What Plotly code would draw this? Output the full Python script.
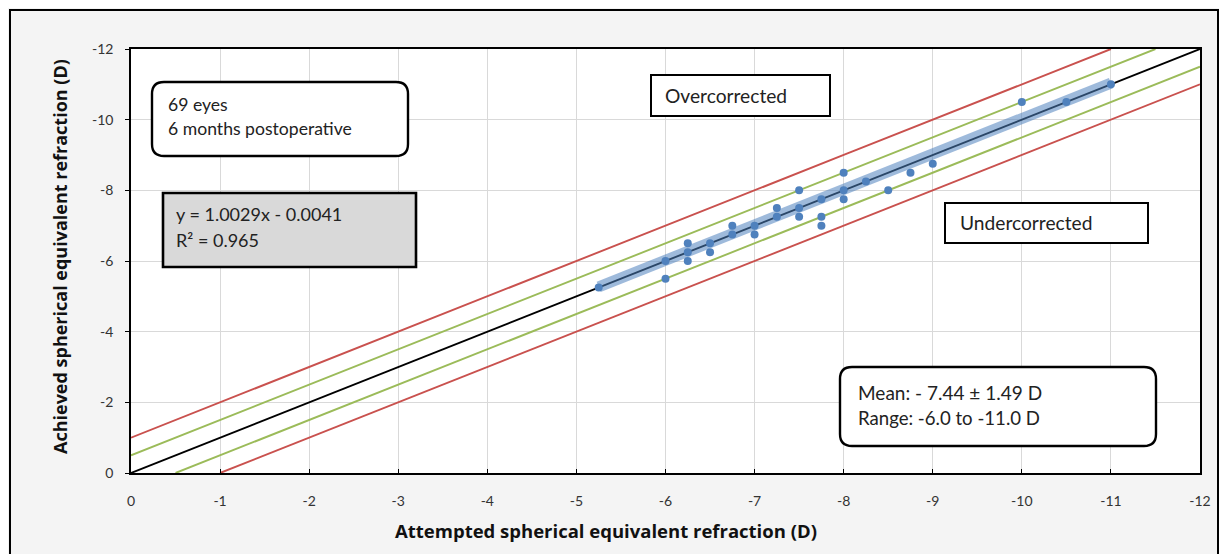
import numpy as np
import plotly.graph_objects as go

# ---- data ----
attempted = [-5.25, -6, -6, -6.25, -6.25, -6.25, -6.5, -6.5, -6.75, -6.75, -7, -7,
             -7.25, -7.25, -7.5, -7.5, -7.5, -7.75, -7.75, -7.75, -8, -8, -8,
             -8.25, -8.5, -8.75, -9, -10, -10.5, -11]
achieved = [-5.25, -6, -5.5, -6.5, -6.25, -6, -6.5, -6.25, -7, -6.75, -7, -6.75,
            -7.5, -7.25, -8, -7.5, -7.25, -7.75, -7.25, -7, -8.5, -8, -7.75,
            -8.25, -8, -8.5, -8.75, -10.5, -10.5, -11]
fit_slope = 1.0029
fit_intercept = -0.0041
axis_min, axis_max = 0, -12
x_ticks = list(range(0, -13, -1))
y_ticks = list(range(0, -13, -2))
offsets_red = [1.0, -1.0]
offsets_green = [0.5, -0.5]

# ---- layout geometry (pixels, in page coordinates; page body has 8px margin) ----
OX, OY = 8, 8
W, H = 1227 - OX, 554 - OY
L, R, T, B = 131, 1200, 49, 473  # plot area in page pixels


def px(x):
    return (x - L) / (R - L)


def py(y):
    return (B - y) / (B - T)


fig = go.Figure()

ref_x = np.array([axis_min, axis_max], dtype=float)


def clipped_line(off):
    xs = np.linspace(0, -12, 241)
    ys = xs + off
    m = (ys <= 0) & (ys >= -12)
    return xs[m], ys[m]


for off in offsets_red:
    xs, ys = clipped_line(-off)
    fig.add_trace(go.Scatter(x=xs, y=ys, mode="lines",
                             line=dict(color="#c9514e", width=1.9), hoverinfo="skip"))
for off in offsets_green:
    xs, ys = clipped_line(-off)
    fig.add_trace(go.Scatter(x=xs, y=ys, mode="lines",
                             line=dict(color="#9bbb59", width=1.9), hoverinfo="skip"))

fig.add_trace(go.Scatter(x=ref_x, y=ref_x, mode="lines",
                         line=dict(color="black", width=1.9), hoverinfo="skip"))

fx = np.array([max(attempted), min(attempted)])
fy = fit_slope * fx + fit_intercept
fig.add_trace(go.Scatter(x=fx, y=fy, mode="lines",
                         line=dict(color="rgba(79,129,189,0.55)", width=11), hoverinfo="skip"))

fig.add_trace(go.Scatter(x=attempted, y=achieved, mode="markers",
                         marker=dict(color="#4f81bd", size=8), hoverinfo="skip"))

shapes = []


def rounded(x0, y0, x1, y1, r):
    rx = r / (R - L)
    ry = r / (B - T)
    a0, a1 = px(x0), px(x1)
    b0, b1 = py(y1), py(y0)
    return (f"M {a0+rx},{b1} L {a1-rx},{b1} Q {a1},{b1} {a1},{b1-ry} "
            f"L {a1},{b0+ry} Q {a1},{b0} {a1-rx},{b0} L {a0+rx},{b0} "
            f"Q {a0},{b0} {a0},{b0+ry} L {a0},{b1-ry} Q {a0},{b1} {a0+rx},{b1} Z")


# outer frame
shapes.append(dict(type="rect", xref="paper", yref="paper",
                   x0=px(10), x1=px(1218), y0=py(565), y1=py(10),
                   line=dict(color="black", width=2), fillcolor="rgba(0,0,0,0)", layer="below"))
# info box
shapes.append(dict(type="path", xref="paper", yref="paper", path=rounded(152, 82, 408, 156, 12),
                   line=dict(color="black", width=2.4), fillcolor="white"))
# equation box
shapes.append(dict(type="rect", xref="paper", yref="paper",
                   x0=px(163), x1=px(416), y0=py(267), y1=py(193),
                   line=dict(color="black", width=2.6), fillcolor="#d9d9d9"))
# over/under boxes
shapes.append(dict(type="rect", xref="paper", yref="paper",
                   x0=px(651), x1=px(830), y0=py(116), y1=py(75),
                   line=dict(color="black", width=2), fillcolor="white"))
shapes.append(dict(type="rect", xref="paper", yref="paper",
                   x0=px(945), x1=px(1148), y0=py(243), y1=py(203),
                   line=dict(color="black", width=2), fillcolor="white"))
# mean box
shapes.append(dict(type="path", xref="paper", yref="paper", path=rounded(840, 367, 1156, 446, 12),
                   line=dict(color="black", width=2.4), fillcolor="white"))


def txt(x, y, s, size=15):
    return dict(xref="paper", yref="paper", x=px(x), y=py(y), text=s, showarrow=False,
                xanchor="left", yanchor="middle", align="left",
                font=dict(family="Lato, Open Sans, sans-serif", size=size, color="#222"))


annotations = [
    txt(166, 105, "69 eyes", 17.6),
    txt(166, 128, "6 months postoperative", 17.6),
    txt(174, 214, "y = 1.0029x - 0.0041", 18),
    txt(174, 240, "R² = 0.965", 18),
    txt(663, 96, "Overcorrected", 19.2),
    txt(958, 223, "Undercorrected", 19.2),
    txt(856, 392, "Mean: - 7.44 ± 1.49 D", 19),
    txt(856, 418, "Range: -6.0 to -11.0 D", 18.6),
    dict(xref="paper", yref="paper", x=px(606), y=py(530), text="<b>Attempted spherical equivalent refraction (D)</b>",
         showarrow=False, xanchor="center", yanchor="middle",
         font=dict(family="Open Sans, sans-serif", size=18.5, color="#111")),
    dict(xref="paper", yref="paper", x=px(60), y=py(257), text="<b>Achieved spherical equivalent refraction (D)</b>",
         showarrow=False, xanchor="center", yanchor="middle", textangle=-90,
         font=dict(family="Open Sans, sans-serif", size=18, color="#111")),
]

axis_common = dict(showgrid=True, gridcolor="#d9d9d9", gridwidth=1, zeroline=False,
                   showline=True, linecolor="black", linewidth=1.5, mirror=True,
                   ticklen=4, tickcolor="black",
                   tickfont=dict(family="Lato, Open Sans, sans-serif", size=14, color="#333"))

fig.update_layout(
    width=W, height=H,
    margin=dict(l=L - OX, r=(W + OX) - R, t=T - OY, b=(H + OY) - B),
    paper_bgcolor="#f4f4f4",
    plot_bgcolor="white",
    showlegend=False,
    shapes=shapes,
    annotations=annotations,
    xaxis=dict(range=[axis_min, axis_max], tickvals=x_ticks, ticktext=[str(v) for v in x_ticks],
               ticks="inside", ticklabelstandoff=14, **axis_common),
    yaxis=dict(range=[axis_min, axis_max], tickvals=y_ticks, ticktext=[str(v) for v in y_ticks],
               ticks="outside", ticklabelstandoff=9, **axis_common),
)

fig.write_html("out.html")
